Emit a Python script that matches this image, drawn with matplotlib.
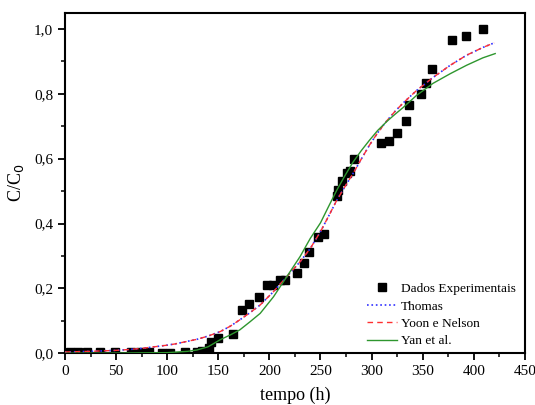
import matplotlib
matplotlib.use("Agg")
import matplotlib.pyplot as plt
from matplotlib.ticker import MultipleLocator, FuncFormatter

plt.rcParams["font.family"] = ["Liberation Serif", "DejaVu Serif"]

# dados experimentais (tempo em h, C/C0)
t_exp = [5, 13, 22, 34, 49, 64.5, 73, 82, 95, 103, 117, 129, 134, 141, 143, 150,
         164, 172.8, 180.3, 189.8, 197.3, 203.8, 210, 215, 227.3, 234, 239, 247.8,
         253.4, 265.8, 267, 270.6, 275.6, 278.8, 282.7, 308.8, 317, 325, 333.3,
         336.8, 348.5, 352.8, 358.7, 379, 392.3, 409.3]
c_exp = [0.003, 0.005, 0.005, 0.003, 0.003, 0.004, 0.004, 0.003, 0.002, 0.002,
         0.005, 0.004, 0.006, 0.015, 0.035, 0.047, 0.060, 0.133, 0.152, 0.174,
         0.210, 0.210, 0.226, 0.226, 0.248, 0.279, 0.313, 0.357, 0.368, 0.485,
         0.503, 0.532, 0.555, 0.562, 0.600, 0.649, 0.654, 0.678, 0.716, 0.765,
         0.798, 0.832, 0.875, 0.967, 0.977, 1.001]

# curvas dos modelos
t_mod = [0, 25, 50, 64, 75, 100, 108, 129, 140, 152, 162, 171, 181, 191, 204, 217,
         230, 240, 250, 258, 266, 274, 282, 290, 298, 306, 315, 323, 331, 344, 360,
         377, 393, 409, 420]
c_thomas = [0.004, 0.006, 0.009, 0.012, 0.015, 0.025, 0.029, 0.043, 0.053, 0.067,
            0.084, 0.103, 0.125, 0.149, 0.190, 0.236, 0.282, 0.323, 0.375, 0.423,
            0.472, 0.514, 0.555, 0.599, 0.642, 0.680, 0.717, 0.746, 0.772, 0.810,
            0.850, 0.888, 0.919, 0.943, 0.957]
c_yoon = c_thomas
t_yan = [0, 50, 100, 120, 129, 140, 152, 162, 171, 181, 191, 204, 217, 230, 240,
         250, 258, 266, 274, 282, 290, 298, 306, 315, 323, 331, 344, 360, 377, 393,
         409, 421]
c_yan = [0.0, 0.0005, 0.002, 0.006, 0.010, 0.020, 0.042, 0.057, 0.072, 0.097,
         0.123, 0.174, 0.236, 0.298, 0.354, 0.402, 0.453, 0.503, 0.548, 0.590,
         0.625, 0.657, 0.687, 0.715, 0.737, 0.758, 0.795, 0.832, 0.862, 0.888,
         0.911, 0.924]

fig = plt.figure(figsize=(5.35, 4.05), dpi=100)
ax = fig.add_axes([0.1215, 0.1277, 0.8595, 0.8409])

ax.plot(t_exp, c_exp, "s", color="black", markersize=6, label="Dados Experimentais", zorder=3)
ax.plot(t_mod, c_thomas, ":", color="#3030ff", lw=1.2, label="Thomas", zorder=4)
ax.plot(t_mod, c_yoon, "--", color="#ff3030", lw=1.0, dashes=(4, 3), label="Yoon e Nelson", zorder=4)
ax.plot(t_yan, c_yan, "-", color="#2e962e", lw=1.0, label="Yan et al.", zorder=4)

ax.set_xlim(0, 450)
ax.set_ylim(0, 1.05)
ax.xaxis.set_major_locator(MultipleLocator(50))
ax.xaxis.set_minor_locator(MultipleLocator(25))
ax.yaxis.set_major_locator(MultipleLocator(0.2))
ax.yaxis.set_minor_locator(MultipleLocator(0.1))
ax.yaxis.set_major_formatter(FuncFormatter(lambda v, p: f"{v:.1f}".replace(".", ",")))
ax.tick_params(which="major", direction="out", length=5, width=1.3, labelsize=11, colors="black")
ax.tick_params(which="minor", direction="out", length=3, width=1.1)
for s in ax.spines.values():
    s.set_linewidth(1.5)

ax.set_xlabel("tempo (h)", fontsize=13, labelpad=6)
ax.set_ylabel("C/C$_0$", fontsize=13, labelpad=6)

ax.legend(loc="lower right", bbox_to_anchor=(1.0, -0.01), frameon=False, fontsize=9.6,
          handlelength=2.2, labelspacing=0.38, handletextpad=0.3, borderpad=0.2)

fig.savefig("out.png", dpi=100)
